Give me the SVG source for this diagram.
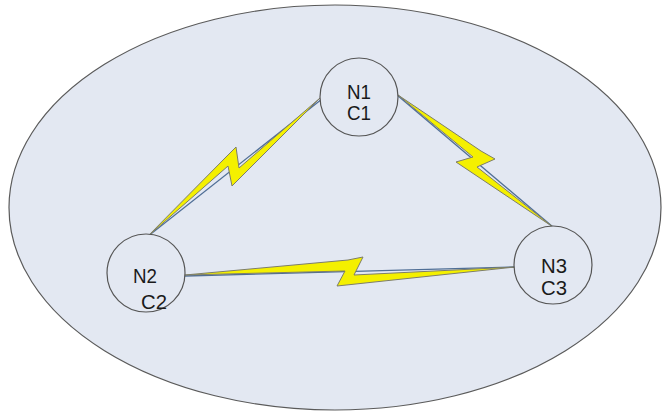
<svg xmlns="http://www.w3.org/2000/svg" width="662" height="412" viewBox="0 0 662 412">
  <style>
    .cell { fill: #e3e8f2; stroke: #5a5a5a; stroke-width: 1.2; }
    .node { fill: #e3e8f2; stroke: #555555; stroke-width: 1.2; }
    .link { stroke: #4f6e96; stroke-width: 1.3; fill: none; }
    .bolt { fill: #f4f000; stroke: #7d7d6a; stroke-width: 1; stroke-linejoin: miter; }
    .lbl { font-family: "Liberation Sans", Arial, sans-serif; font-size: 21px; fill: #1a1a1a; text-anchor: middle; }
  </style>
  <rect width="662" height="412" fill="#ffffff"/>

  <!-- coverage area -->
  <ellipse id="area" class="cell" cx="335" cy="207.5" rx="326" ry="202.5"/>

  <!-- wireless links -->
  <g id="connectors">
    <line class="link" x1="147" y1="237" x2="322" y2="99"/>
    <polygon class="bolt" points="147,237 226,157 236,147 239,168 320,98 232,186 228,166"/>
    <line class="link" x1="397" y1="95" x2="553" y2="227"/>
    <polygon class="bolt" points="398,95 481,151 495,159 477,167 553,227 456,162 473,157"/>
    <line class="link" x1="185" y1="276" x2="515" y2="267"/>
    <polygon class="bolt" points="185,275 348,260 363,257 354,275 515,267 337,286 345,271"/>
  </g>

  <g id="n1">
    <circle class="node" cx="359" cy="97" r="39"/>
    <text class="lbl" x="359" y="99" textLength="24" lengthAdjust="spacingAndGlyphs">N1</text>
    <text class="lbl" x="359" y="120" textLength="24" lengthAdjust="spacingAndGlyphs">C1</text>
  </g>
  <g id="n2">
    <circle class="node" cx="146" cy="273" r="39"/>
    <text class="lbl" x="145" y="283" textLength="24" lengthAdjust="spacingAndGlyphs">N2</text>
    <text class="lbl" x="154" y="309" textLength="26" lengthAdjust="spacingAndGlyphs">C2</text>
  </g>
  <g id="n3">
    <circle class="node" cx="553" cy="265" r="39"/>
    <text class="lbl" x="554" y="273" textLength="26" lengthAdjust="spacingAndGlyphs">N3</text>
    <text class="lbl" x="554" y="295" textLength="26" lengthAdjust="spacingAndGlyphs">C3</text>
  </g>
</svg>
